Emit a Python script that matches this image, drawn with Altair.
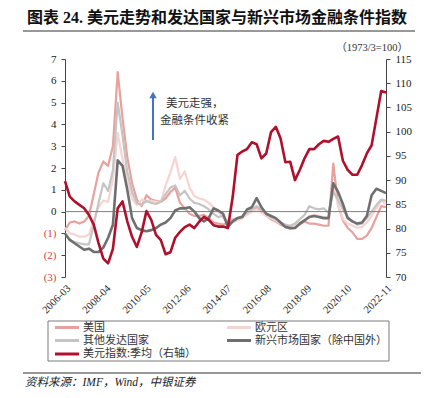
import altair as alt
import pandas as pd

# ---------------- data (quarterly, 2006Q1 .. 2022Q4) ----------------
quarters = list(range(68))

us = [-0.85, -0.5, -0.45, -0.55, -0.45, -0.2, 0.8, 1.8, 2.3, 2.1,
      3.0, 6.4, 4.3, 2.5, 1.3, 0.55, 0.25, 0.75, 0.55, 0.5,
      0.45, 0.6, 0.9, 1.1, 0.4, 0.15, -0.1, -0.2, -0.2, -0.15,
      -0.3, -0.5, -0.55, -0.6, -0.5, -0.4, -0.35, -0.25, -0.1, 0.05,
      0.2, 0.0, -0.2, -0.35, -0.45, -0.6, -0.7, -0.8, -0.75, -0.6,
      -0.45, -0.55, -0.55, -0.6, -0.65, -0.65, 2.2, 0.3, -0.4, -0.75,
      -0.95, -1.25, -1.25, -1.1, -0.75, -0.25, 0.25, 0.2]

euro = [-0.75, -1.0, -1.05, -1.15, -1.15, -1.05, -0.4, 0.2, 0.5, 0.45,
        1.5, 3.6, 2.4, 1.4, 0.6, 0.3, 0.55, 0.45, 0.5, 0.45,
        0.45, 1.2, 1.8, 2.5, 1.5, 1.85, 1.1, 0.7, 0.6, 0.55,
        0.4, 0.2, 0.0, -0.3, -0.45, -0.5, -0.4, -0.3, -0.15, 0.0,
        0.1, -0.05, -0.2, -0.3, -0.4, -0.55, -0.65, -0.7, -0.6, -0.5,
        -0.4, -0.2, -0.15, -0.2, -0.25, -0.3, 1.2, 0.3, -0.35, -0.55,
        -0.65, -0.75, -0.7, -0.5, -0.2, 0.15, 0.5, 0.35]

other_dev = [-1.0, -1.3, -1.4, -1.45, -1.5, -1.5, -0.6, 0.4, 1.3, 0.95,
             1.9, 5.0, 3.5, 1.8, 0.9, 0.4, 0.3, 0.5, 0.4, 0.35,
             0.45, 0.8, 1.1, 1.2, 0.75, 0.95, 0.6, 0.4, 0.35, 0.25,
             0.1, -0.1, -0.25, -0.2, -0.5, -0.35, -0.3, -0.2, -0.05, 0.1,
             0.25, 0.1, -0.1, -0.25, -0.35, -0.5, -0.6, -0.65, -0.55, -0.35,
             -0.15, 0.25, 0.15, 0.1, 0.15, -0.05, 0.9, 0.55, 0.1, -0.25,
             -0.45, -0.6, -0.55, -0.3, 0.0, 0.3, 0.55, 0.5]

em = [-1.0, -1.3, -1.45, -1.6, -1.75, -1.7, -1.85, -1.85, -1.65, -1.2,
      -0.6, 2.35, 2.1, 1.0, -0.3, -0.75, -0.85, -0.9, -0.85, -0.75,
      -0.6, -0.5, -0.3, 0.05, 0.15, 0.15, 0.2, 0.0, -0.3, -0.45,
      -0.3, 0.15, 0.05, -0.1, -0.7, -0.45, -0.3, -0.25, 0.1, 0.2,
      0.62, 0.2, -0.1, -0.2, -0.3, -0.5, -0.7, -0.75, -0.75, -0.55,
      -0.4, -0.25, -0.2, -0.25, -0.3, -0.3, 1.3, 0.9, 0.35, -0.3,
      -0.45, -0.55, -0.5, -0.2, 0.75, 1.05, 0.95, 0.85]

dxy = [89.8, 86.6, 85.6, 84.9, 84.2, 82.8, 80.8, 77.0, 73.8, 72.8,
       75.8, 84.2, 85.6, 81.5, 78.3, 76.2, 79.2, 83.6, 81.8, 78.7,
       77.6, 74.7, 75.1, 78.1, 79.3, 80.3, 80.8, 80.1, 81.4, 82.4,
       81.8, 80.7, 80.4, 80.4, 80.1, 86.5, 95.2, 95.9, 96.4, 97.8,
       97.4, 94.5, 95.5, 99.9, 101.0, 98.6, 93.7, 93.8, 90.0, 92.1,
       94.5, 96.4, 96.4, 97.4, 98.1, 97.9, 98.5, 99.0, 94.0, 92.1,
       91.1, 91.1, 93.1, 95.5, 97.2, 102.8, 108.4, 108.1]

series_names = ["美国", "欧元区", "其他发达国家", "新兴市场国家（除中国外）", "美元指数:季均（右轴）"]
series_colors = ["#E8A19D", "#F6D4D2", "#C4C4C4", "#6F6F6F", "#B0102C"]
tick_labels = ["2006-03", "2008-04", "2010-05", "2012-06", "2014-07",
               "2016-08", "2018-09", "2020-10", "2022-11"]
left_ticks = list(range(-3, 8))
right_ticks = list(range(70, 116, 5))

# ---------------- tables ----------------
rows = []
for name, vals in zip(series_names[:4], [us, euro, other_dev, em]):
    for k, v in zip(quarters, vals):
        rows.append({"k": k, "series": name, "value": v})
df_left = pd.DataFrame(rows)
df_right = pd.DataFrame({"k": quarters, "series": series_names[4], "value": dxy})
one = pd.DataFrame({"a": [0]})

last_k = quarters[-1]
tick_pos = [j * last_k / (len(tick_labels) - 1) for j in range(len(tick_labels))]
label_expr = "[" + ",".join("'" + t + "'" for t in tick_labels) + "][round(datum.value*%d/%d)]" % (len(tick_labels) - 1, last_k)

SERIF = "Liberation Serif, Noto Sans CJK SC"
CJK = "Noto Sans CJK SC"

color = alt.Color("series:N", scale=alt.Scale(domain=series_names, range=series_colors), legend=None)

x_axis = alt.Axis(values=tick_pos, labelExpr=label_expr, labelAngle=-45,
                  labelAlign="right", labelBaseline="top", domain=False,
                  ticks=False, labelPadding=6, title=None, labelFont=SERIF,
                  labelFontSize=10.5, labelColor="#222")
x_scale = alt.Scale(domain=[0, last_k], nice=False, zero=False)
xenc = alt.X("k:Q", scale=x_scale, axis=x_axis)

yleft_scale = alt.Scale(domain=[-3, 7], nice=False, zero=False)
yleft_axis = alt.Axis(orient="left", values=left_ticks, title=None,
                      labelExpr="datum.value < 0 ? '(' + abs(datum.value) + ')' : '' + datum.value",
                      labelColor={"condition": {"test": "datum.value < 0", "value": "#E4413F"}, "value": "#222222"},
                      labelFont=SERIF, labelFontSize=11, tickSize=4, labelPadding=5,
                      domainColor="#444", tickColor="#444")
yleft = alt.Y("value:Q", scale=yleft_scale, axis=yleft_axis)

light = alt.Chart(df_left).transform_filter(
    alt.FieldOneOfPredicate(field="series", oneOf=series_names[:3])
).mark_line(strokeWidth=2.2, strokeJoin="round").encode(
    x=xenc, y=yleft, color=color, detail="series:N"
)

zero_rule = alt.Chart(df_left).transform_filter(
    alt.datum.k == 0
).transform_filter(alt.datum.series == series_names[0]).mark_rule(
    color="#7f7f7f", strokeWidth=1
).encode(y=alt.Y(datum=0, scale=yleft_scale, axis=yleft_axis))

em_line = alt.Chart(df_left).transform_filter(
    alt.datum.series == series_names[3]
).mark_line(strokeWidth=2.6, strokeJoin="round").encode(
    x=xenc, y=yleft, color=color
)

left_group = alt.layer(light, zero_rule, em_line)

right_line = alt.Chart(df_right).mark_line(strokeWidth=2.6, strokeJoin="round").encode(
    x=xenc,
    y=alt.Y("value:Q", scale=alt.Scale(domain=[70, 115], nice=False, zero=False),
            axis=alt.Axis(orient="right", values=right_ticks, title=None,
                          labelFont=SERIF, labelFontSize=11, labelColor="#222",
                          tickSize=4, labelPadding=5, domainColor="#444", tickColor="#444")),
    color=color,
)

# ---------------- text & decorations ----------------
def txt(text, x, y, size=11, font=CJK, align="left", **kw):
    return alt.Chart(one).mark_text(
        text=text, font=font, fontSize=size, align=align, baseline="middle", **kw
    ).encode(x=alt.value(x), y=alt.value(y))

def hline(x1, x2, y, col, w):
    return alt.Chart(one).mark_rule(color=col, strokeWidth=w).encode(
        x=alt.value(x1), x2=alt.value(x2), y=alt.value(y))

title = txt("图表 24. 美元走势和发达国家与新兴市场金融条件指数", -38, -41, size=16,
            font=SERIF, fontWeight="bold", color="#111")
title_rule = hline(-42, 350, -28, "#333", 1.2)
unit = txt("（1973/3=100）", 343, -11, size=10.5, font=SERIF, align="right", color="#333")

arrow_shaft = alt.Chart(one).mark_rule(color="#4472C4", strokeWidth=2).encode(
    x=alt.value(88), y=alt.value(81), y2=alt.value(39)
)
arrow_head = alt.Chart(one).mark_point(
    shape="triangle-up", filled=True, color="#4472C4", size=55, opacity=1
).encode(x=alt.value(88), y=alt.value(36))

ann1 = txt("美元走强，", 101, 45, size=11.5, color="#333")
ann2 = txt("金融条件收紧", 95, 62, size=11.5, color="#333")

# legend (drawn by hand: 2 columns, row-major as in the reference)
legend_box = alt.Chart(one).mark_rect(fill="white", stroke="#7a7a7a", strokeWidth=1).encode(
    x=alt.value(-17), x2=alt.value(324), y=alt.value(262), y2=alt.value(302)
)
legend_layers = [legend_box]
col_x = [-10, 162]
row_y = [268.5, 281.5, 295]
for i, (name, col) in enumerate(zip(series_names, series_colors)):
    cx = col_x[i % 2]
    ry = row_y[i // 2]
    legend_layers.append(hline(cx, cx + 24, ry, col, 3))
    legend_layers.append(txt(name, cx + 28, ry, size=11, color="#333"))

foot_rule = hline(-42, 360, 314, "#333", 1.2)
source = txt("资料来源：IMF，Wind，中银证券", -40, 324, size=11.5, font=SERIF,
             fontStyle="italic", color="#222")

chart = alt.layer(
    left_group, right_line, title, title_rule, unit, arrow_shaft, arrow_head,
    ann1, ann2, *legend_layers, foot_rule, source
).resolve_scale(y="independent").properties(
    width=321, height=218,
    autosize=alt.AutoSizeParams(type="none"),
    padding={"left": 57, "top": 51, "right": 35, "bottom": 111},
).configure_view(stroke=None).configure_axis(grid=False)

chart.save("out.html", embed_options={"renderer": "svg", "actions": False})
